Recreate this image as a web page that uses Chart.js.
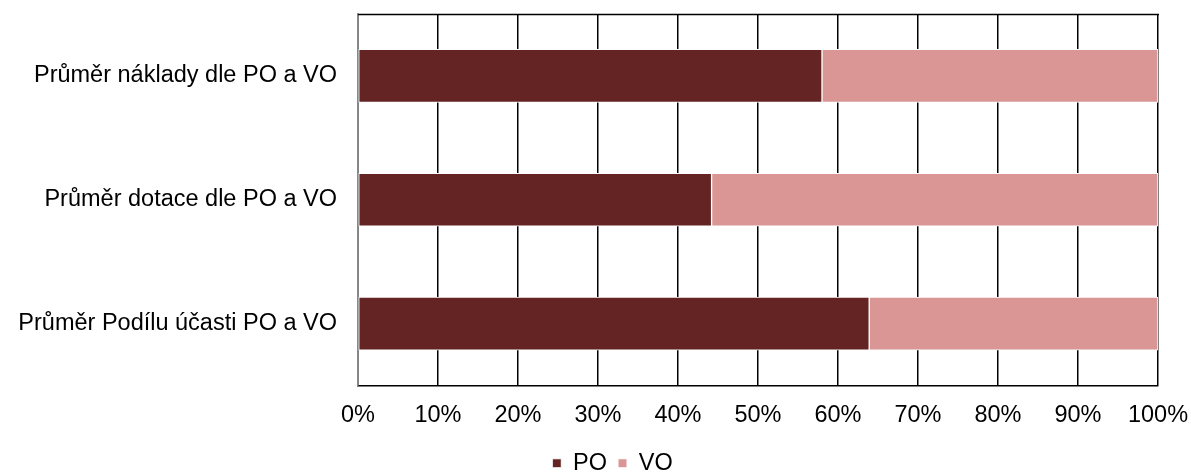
<!DOCTYPE html>
<html><head><meta charset="utf-8">
<script src="https://cdn.jsdelivr.net/npm/chart.js@4/dist/chart.umd.min.js"></script>
<style>html,body{margin:0;padding:0;background:#fff}#wrap{width:1191px;height:473px}</style>
</head><body><div id="wrap"><canvas id="c" width="1191" height="473"></canvas></div>
<script>
const categories = ["Průměr náklady dle PO a VO", "Průměr dotace dle PO a VO", "Průměr Podílu účasti PO a VO"];
const poValues = [58.0, 44.2, 63.9];
const voValues = [42.0, 55.8, 36.1];
const seriesNames = ["PO", "VO"];
const xTicks = [0,10,20,30,40,50,60,70,80,90,100];

const FONT = "'Liberation Sans', Arial, sans-serif";
const framePlugin = {
  id: 'frame',
  afterLayout(chart) {
    if (chart.legend) { chart.legend.left += 17; chart.legend.right += 17; }
  },
  afterDatasetsDraw(chart) {
    const {ctx, chartArea: a} = chart;
    ctx.save();
    ctx.strokeStyle = '#000'; ctx.lineWidth = 1.5;
    ctx.beginPath(); ctx.moveTo(a.left, a.top + 0.5); ctx.lineTo(a.right + 1, a.top + 0.5); ctx.stroke();
    ctx.restore();
  }
};

new Chart(document.getElementById('c'), {
  type: 'bar',
  data: {
    labels: categories,
    datasets: [
      {label: seriesNames[0], data: poValues, backgroundColor: '#632423', borderColor: '#ffffff', borderWidth: 1, borderSkipped: false},
      {label: seriesNames[1], data: voValues, backgroundColor: '#D99694', borderColor: '#ffffff', borderWidth: 1, borderSkipped: false}
    ]
  },
  options: {
    indexAxis: 'y',
    responsive: false,
    animation: false,
    devicePixelRatio: 1,
    layout: {padding: {top: 14, right: 0, left: 0, bottom: -12}},
    datasets: {bar: {barThickness: 53}},
    plugins: {
      legend: {
        position: 'bottom',
        labels: {font: {family: FONT, size: 23.5}, color: '#000', usePointStyle: true, pointStyle: 'rect', boxWidth: 9, boxHeight: 9, padding: 11}
      },
      tooltip: {enabled: false}
    },
    scales: {
      x: {
        stacked: true, min: 0, max: 100,
        afterBuildTicks(s) { s.ticks = xTicks.map(v => ({value: v})); },
        ticks: {callback: v => v + '%', font: {family: FONT, size: 23.5}, color: '#000', padding: 16, maxRotation: 0},
        grid: {color: '#000', lineWidth: 1.5, drawTicks: false},
        border: {color: '#000', width: 1.5},
        afterFit(s) { s.height = 55; s.paddingLeft = 0; s.paddingRight = 33; }
      },
      y: {
        stacked: true,
        ticks: {font: {family: FONT, size: 23.5}, color: '#000', padding: 21},
        grid: {display: false, drawTicks: false},
        border: {color: '#888', width: 1.5},
        afterFit(s) { s.width = 358; s.paddingTop = 0; s.paddingBottom = 0; }
      }
    }
  },
  plugins: [framePlugin]
});
</script></body></html>
